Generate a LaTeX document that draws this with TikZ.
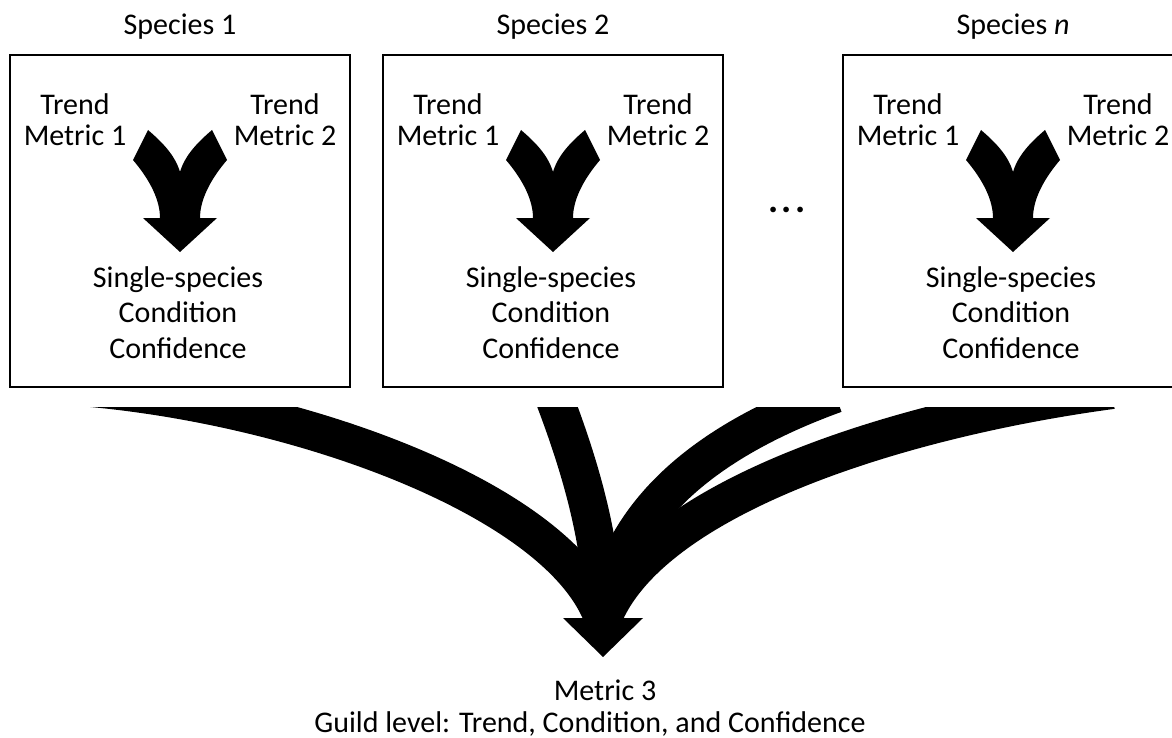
\documentclass[tikz,border=0pt]{standalone}
\usepackage{fontspec}
\setmainfont{Carlito}

\tikzset{
  box/.style={draw, line width=2pt, minimum width=340pt, minimum height=332pt, inner sep=0pt},
  lbl/.style={font=\fontsize{30}{31}\selectfont, align=center, inner sep=0pt},
  lbltall/.style={font=\fontsize{30}{35.5}\selectfont, align=center, inner sep=0pt},
  bigarrow/.style={line width=38pt},
  pics/fork/.style={code={
    \fill (0,252) -- (37,218) -- (20,218)
      .. controls (20,200) and (30,180) .. (47,160) -- (32,130)
      .. controls (18,142) and (5,155) .. (0,172)
      .. controls (-5,155) and (-18,142) .. (-32,130) -- (-47,160)
      .. controls (-30,180) and (-20,200) .. (-20,218) -- (-37,218) -- cycle;
  }}
}

\begin{document}
\begin{tikzpicture}[x=1pt, y=-1pt]
    \clip (0,0) rectangle (1172,738);

    % species boxes
    \foreach \cx/\k/\name in {180/1/a, 553/2/b, 1013/\textit{n}/n} {
        \node[box] (box\name) at (\cx,221) {};
        \node[lbl, anchor=base] (title\name) at (\cx,35) {Species \k};
        \node[lbl, anchor=base] (trendA\name) at (\cx-105,146) {Trend\\Metric 1};
        \node[lbl, anchor=base] (trendB\name) at (\cx+105,146) {Trend\\Metric 2};
        \pic at (\cx,0) {fork};
        \node[lbltall, anchor=base] (single\name) at (\cx-2,358) {Single-species\\Condition\\Confidence};
    }
    \node[lbl, font=\fontsize{38}{38}\selectfont] (dots) at (787,210) {\textbf{.\hspace{3.5pt}.\hspace{3.5pt}.}};

    % guild arrows
    \coordinate (srcA) at (80,387);
    \coordinate (srcB) at (553,395);
    \coordinate (srcC) at (835,394);
    \coordinate (srcD) at (1112,390);
    \coordinate (merge) at (603,618);
    \begin{scope}
        \clip (0,407) rectangle (1172,738);
        \draw[bigarrow] (srcA) .. controls (300,405) and (560,500) .. (merge);
        \draw[bigarrow] (srcB) .. controls (578,460) and (603,540) .. (merge);
        \draw[bigarrow] (srcC) .. controls (700,443) and (620,515) .. (merge);
        \draw[bigarrow] (srcD) .. controls (890,420) and (650,500) .. (merge);
        \fill (583.5,580) rectangle (622.5,618);
        \fill (563,618) -- (643,618) -- (603,657) -- cycle;
    \end{scope}

    \node[lbl, anchor=base] (metric) at (605,700) {Metric 3};
    \node[lbl, anchor=base] (guild) at (590,732) {Guild level: Trend, Condition, and Confidence};
\end{tikzpicture}
\end{document}
